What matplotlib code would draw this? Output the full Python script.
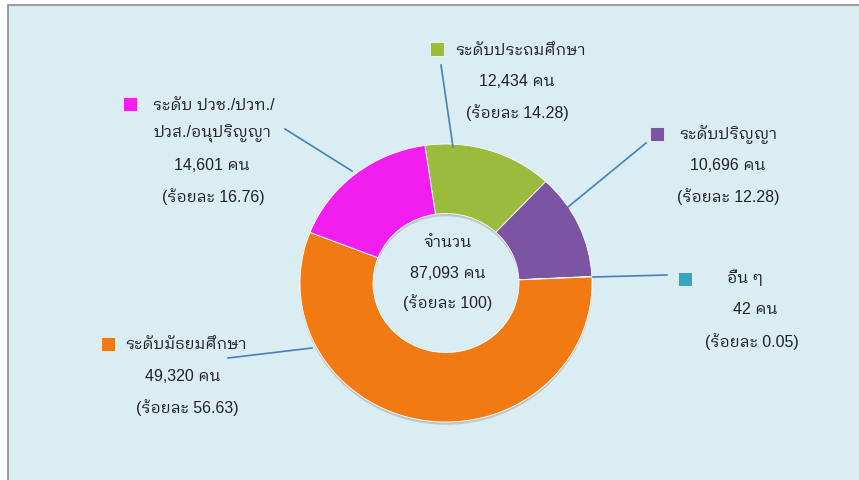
import matplotlib
matplotlib.use('Agg')
import matplotlib.pyplot as plt
from matplotlib.patches import Rectangle

plt.rcParams['font.family'] = ['Liberation Sans', 'IBM Plex Sans Thai Looped', 'DejaVu Sans']

# ---------------- data ----------------
categories = ['ระดับประถมศึกษา', 'ระดับปริญญา', 'อื่น ๆ', 'ระดับมัธยมศึกษา',
              'ระดับ ปวช./ปวท./\nปวส./อนุปริญญา']
counts = [12434, 10696, 42, 49320, 14601]
percents = [14.28, 12.28, 0.05, 56.63, 16.76]
colors = ['#9bbb3d', '#7b55a4', '#33a8c4', '#f27a12', '#f21ef0']
total_count = 87093
total_percent = 100

# ---------------- layout (pixels) ----------------
W, H = 859, 481
CX, CY = 446, 284          # donut centre
RX, RY = 146, 139          # outer radius in x / y pixels

def d(px, py):
    return (px - CX) / RX, (CY - py) / RY

fig = plt.figure(figsize=(W / 100, H / 100), dpi=100)
fig.patch.set_facecolor('white')
fig.add_artist(Rectangle((8 / W, -0.1), 1.2, 1 - 6 / H + 0.1,
                         transform=fig.transFigure, facecolor='#daedf3',
                         edgecolor='#8c8c8c', linewidth=1.2, zorder=0))

ax = fig.add_axes([0, 0, 1, 1])
ax.set_facecolor('none')

# soft shadow
ax.pie(counts, startangle=98.3, counterclock=False, radius=1.0,
       center=(0.0, -0.02), colors=['#6b5a4a'] * len(counts),
       wedgeprops=dict(width=0.5, edgecolor='none', alpha=0.25))
wedges, _ = ax.pie(counts, startangle=98.3, counterclock=False, radius=1.0,
                   colors=colors,
                   wedgeprops=dict(width=0.5, edgecolor='#ffffff', linewidth=0.6))

ax.set_aspect('auto')
ax.set_xlim(-CX / RX, (W - CX) / RX)
ax.set_ylim(-(H - CY) / RY, CY / RY)
ax.axis('off')

txt_color = '#222222'
fs = 11.5

label_layout = [
    dict(mk=(437, 50), title=(520, 50), lines=[(517, 81), (517, 113)],
         leader=[(441, 66), (453, 148)]),
    dict(mk=(657, 135), title=(728, 135), lines=[(728, 166), (728, 197)],
         leader=[(646, 144), (568, 208)]),
    dict(mk=(685, 280), title=(745, 278), lines=[(755, 310), (752, 342)],
         leader=[(667, 276), (593, 278)]),
    dict(mk=(108, 345), title=(186, 345), lines=[(183, 377), (187, 408)],
         leader=[(228, 359), (312, 349)]),
    dict(mk=(130, 105), title=(214, 105), lines=[(212, 134), (212, 166), (213, 197)],
         leader=[(285, 130), (352, 172)]),
]

for i, lay in enumerate(label_layout):
    name_lines = categories[i].split('\n')
    rest = name_lines[1:] + [f'{counts[i]:,} คน', f'(ร้อยละ {percents[i]:.2f})']
    mx, my = d(*lay['mk'])
    ax.plot([mx], [my], marker='s', markersize=9.5, color=colors[i],
            markeredgecolor='white', markeredgewidth=0.5, zorder=5)
    tx, ty = d(*lay['title'])
    ax.text(tx, ty, name_lines[0], ha='center', va='center', fontsize=fs,
            color=txt_color, zorder=5)
    for (lx, ly), s in zip(lay['lines'], rest):
        x, y = d(lx, ly)
        ax.text(x, y, s, ha='center', va='center', fontsize=fs,
                color=txt_color, zorder=5)
    (x0, y0), (x1, y1) = [d(*p) for p in lay['leader']]
    ax.plot([x0, x1], [y0, y1], color='#4a7ebb', linewidth=1.2, zorder=4)

for s, py in zip(['จำนวน', f'{total_count:,} คน', f'(ร้อยละ {total_percent})'],
                 [243, 273, 303]):
    x, y = d(448, py)
    ax.text(x, y, s, ha='center', va='center', fontsize=fs, color=txt_color)

fig.savefig('out.png', dpi=100, facecolor=fig.get_facecolor())
